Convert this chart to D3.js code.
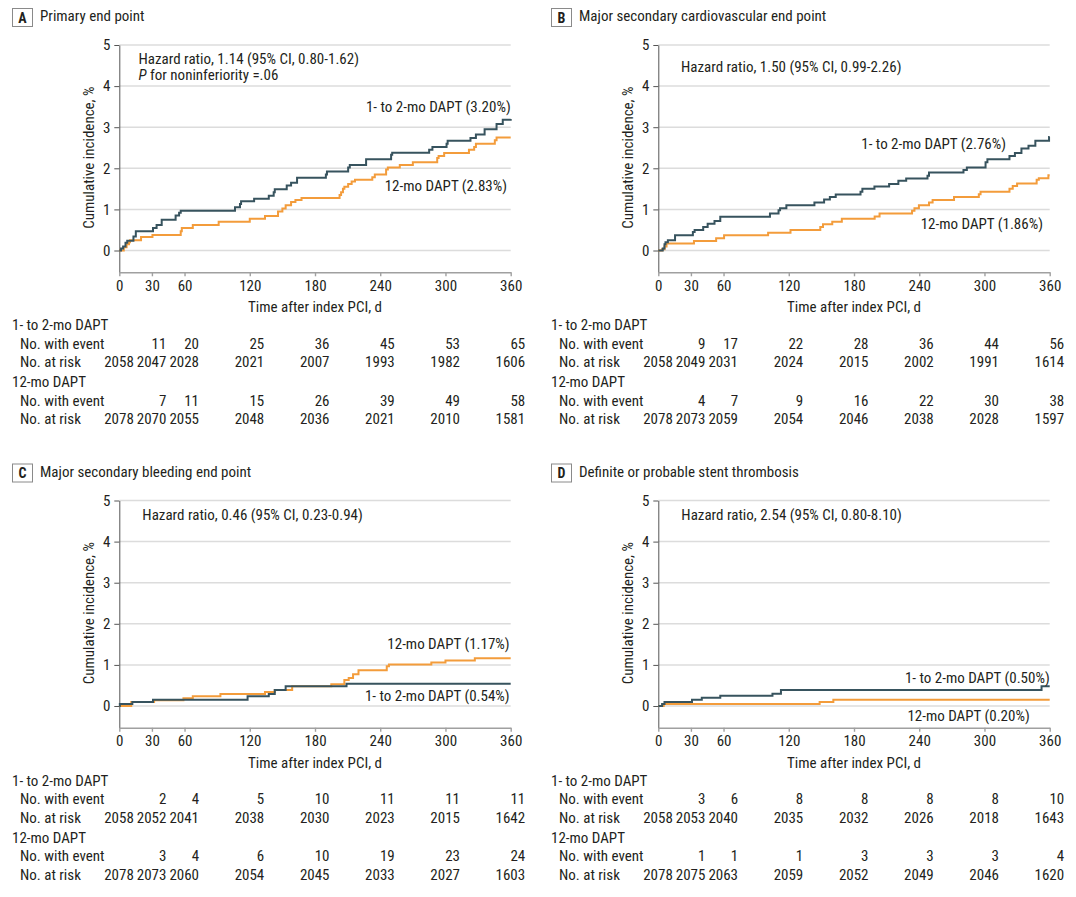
<!DOCTYPE html>
<html>
<head>
<meta charset="utf-8">
<script src="https://cdn.jsdelivr.net/npm/d3@7"></script>
<style>
  html, body { margin: 0; padding: 0; background: #fff; }
  svg text { font-family: 'Liberation Sans Narrow', 'Arial Narrow', 'Roboto Condensed', 'Liberation Sans', sans-serif; fill: #231f20; }
</style>
</head>
<body>
<svg id="chart" width="1076" height="897"></svg>
<script>
// ---------- data ----------
const tickDays = [0, 30, 60, 120, 180, 240, 300, 360];
const yTicks = [0, 1, 2, 3, 4, 5];
const panelLetters = ["A", "B", "C", "D"];
const panelTitles = ["Primary end point", "Major secondary cardiovascular end point",
  "Major secondary bleeding end point", "Definite or probable stent thrombosis"];
const hazardTexts = ["Hazard ratio, 1.14 (95% CI, 0.80-1.62)", "Hazard ratio, 1.50 (95% CI, 0.99-2.26)",
  "Hazard ratio, 0.46 (95% CI, 0.23-0.94)", "Hazard ratio, 2.54 (95% CI, 0.80-8.10)"];
const groupNames = ["1- to 2-mo DAPT", "12-mo DAPT"];
const shortLabels = ["1- to 2-mo DAPT (3.20%)", "1- to 2-mo DAPT (2.76%)", "1- to 2-mo DAPT (0.54%)", "1- to 2-mo DAPT (0.50%)"];
const longLabels = ["12-mo DAPT (2.83%)", "12-mo DAPT (1.86%)", "12-mo DAPT (1.17%)", "12-mo DAPT (0.20%)"];

// step curves [day, cumulative incidence %]
const aShort = [[0,0],[1.6,0.05],[3.5,0.1],[5.7,0.19],[7.3,0.24],[13,0.34],[15.2,0.47],[31,0.55],[34.3,0.62],[39,0.75],[51.8,0.85],[55,0.92],[56.5,0.97],[106.4,1.05],[111,1.13],[112,1.2],[124,1.26],[137.5,1.33],[142,1.42],[143,1.49],[154,1.58],[158,1.65],[163.5,1.77],[190,1.85],[191,1.92],[210.5,2.02],[212,2.08],[227,2.22],[250,2.33],[251,2.38],[285,2.45],[288,2.52],[301,2.6],[302,2.67],[323,2.74],[328,2.82],[336,2.95],[347,3.08],[352.7,3.18],[360,3.2]];
const aLong = [[0,0],[4.1,0.08],[6.7,0.15],[8.9,0.2],[9.8,0.25],[20,0.33],[30.5,0.38],[56.5,0.47],[57.5,0.55],[67.6,0.62],[91.4,0.7],[120,0.77],[134,0.84],[146,0.95],[150,1.02],[153,1.1],[158,1.18],[162,1.23],[167.6,1.28],[202.6,1.35],[204,1.42],[205.7,1.5],[207,1.55],[210.5,1.62],[213.7,1.68],[216.8,1.72],[232.7,1.78],[235,1.85],[245.4,1.97],[247,2.02],[258,2.08],[270,2.15],[292.4,2.25],[293.7,2.3],[298.8,2.37],[321.6,2.45],[326.4,2.52],[328,2.6],[345.4,2.68],[347,2.75],[360,2.75]];
const bShort = [[0,0],[4.1,0.05],[5.7,0.15],[6.6,0.2],[8.8,0.25],[15.4,0.37],[31.8,0.45],[33.4,0.5],[41.3,0.57],[45.4,0.65],[51.7,0.72],[57,0.82],[102.7,0.9],[110.6,0.98],[112,1.03],[117.8,1.1],[143.6,1.17],[152.5,1.24],[157.8,1.3],[163.2,1.36],[186,1.43],[187.7,1.5],[198.8,1.56],[212.3,1.62],[220.8,1.7],[228,1.75],[247.6,1.82],[249,1.9],[280.7,1.96],[283.8,2.02],[301,2.15],[302.7,2.22],[323,2.3],[328,2.37],[334,2.48],[340.5,2.55],[346.8,2.67],[359.4,2.76],[360,2.76]];
const bLong = [[0,0],[3.5,0.03],[5.7,0.1],[7.6,0.17],[32.8,0.23],[53.2,0.3],[60.5,0.37],[101,0.43],[121.6,0.5],[149,0.57],[151.5,0.64],[160,0.7],[168.8,0.77],[199,0.83],[203.5,0.9],[233.4,0.97],[235.6,1.03],[239.7,1.1],[249,1.17],[252.3,1.23],[272,1.3],[294.8,1.37],[296.4,1.43],[323,1.5],[326,1.57],[330,1.63],[348,1.72],[350,1.76],[358.8,1.83],[360,1.83]];
const cShort = [[0,0],[0.5,0.05],[12,0.1],[31,0.15],[118,0.24],[137.5,0.29],[143,0.39],[153,0.48],[209,0.54],[360,0.54]];
const cLong = [[0,0],[11,0.1],[32,0.14],[59,0.19],[67.6,0.24],[93,0.29],[134,0.34],[143,0.39],[159,0.48],[195,0.53],[207,0.63],[211,0.68],[215,0.77],[220,0.87],[246,0.97],[248,1.01],[287,1.06],[300,1.11],[327,1.16],[360,1.16]];
const dShort = [[0,0],[3.5,0.05],[5.7,0.1],[31,0.15],[40,0.2],[57,0.25],[105,0.3],[112.8,0.39],[352.5,0.48],[360,0.48]];
const dLong = [[0,0],[5,0.05],[148.4,0.1],[161,0.15],[360,0.15]];

// number-at-risk tables
const aShortEvents = [null, 11, 20, 25, 36, 45, 53, 65];
const aShortRisk = [2058, 2047, 2028, 2021, 2007, 1993, 1982, 1606];
const aLongEvents = [null, 7, 11, 15, 26, 39, 49, 58];
const aLongRisk = [2078, 2070, 2055, 2048, 2036, 2021, 2010, 1581];
const bShortEvents = [null, 9, 17, 22, 28, 36, 44, 56];
const bShortRisk = [2058, 2049, 2031, 2024, 2015, 2002, 1991, 1614];
const bLongEvents = [null, 4, 7, 9, 16, 22, 30, 38];
const bLongRisk = [2078, 2073, 2059, 2054, 2046, 2038, 2028, 1597];
const cShortEvents = [null, 2, 4, 5, 10, 11, 11, 11];
const cShortRisk = [2058, 2052, 2041, 2038, 2030, 2023, 2015, 1642];
const cLongEvents = [null, 3, 4, 6, 10, 19, 23, 24];
const cLongRisk = [2078, 2073, 2060, 2054, 2045, 2033, 2027, 1603];
const dShortEvents = [null, 3, 6, 8, 8, 8, 8, 10];
const dShortRisk = [2058, 2053, 2040, 2035, 2032, 2026, 2018, 1643];
const dLongEvents = [null, 1, 1, 1, 3, 3, 3, 4];
const dLongRisk = [2078, 2075, 2063, 2059, 2052, 2049, 2046, 1620];

// ---------- layout ----------
const colShort = "#37535e";
const colLong = "#f39c3b";
const origins = [[0, 0], [539, 0], [0, 455.5], [539, 455.5]];
// label anchors in data units: [day, value, anchor]
const shortLabelPos = [[360, 3.37, "end"], [319.8, 2.46, "end"], [359, 0.12, "end"], [360, 0.57, "end"]];
const longLabelPos = [[356.6, 1.45, "end"], [353.8, 0.52, "end"], [359, 1.375, "end"], [341.6, -0.365, "end"]];
const hazardX = [17.7, 20.9, 21.2, 21.2];
const hazardBase = [64, 71.5, 64.5, 64.5];

const panels = [
  {short: aShort, long: aLong, se: aShortEvents, sr: aShortRisk, le: aLongEvents, lr: aLongRisk},
  {short: bShort, long: bLong, se: bShortEvents, sr: bShortRisk, le: bLongEvents, lr: bLongRisk},
  {short: cShort, long: cLong, se: cShortEvents, sr: cShortRisk, le: cLongEvents, lr: cLongRisk},
  {short: dShort, long: dLong, se: dShortEvents, sr: dShortRisk, le: dLongEvents, lr: dLongRisk}
];

const svg = d3.select("#chart");
const x = d3.scaleLinear().domain([0, 360]).range([119.3, 510.7]);
const y = d3.scaleLinear().domain([-0.53, 5]).range([272.3, 45]);
const line = d3.line().x(d => x(d[0])).y(d => y(d[1])).curve(d3.curveStepAfter);
const ff = "'Liberation Sans Narrow','Arial Narrow','Roboto Condensed','Liberation Sans',sans-serif";

panels.forEach((p, i) => {
  const g = svg.append("g").attr("transform", `translate(${origins[i][0]},${origins[i][1]})`);

  // title box
  g.append("rect").attr("x", 12.5).attr("y", 8.5).attr("width", 20).attr("height", 18)
    .attr("fill", "#fff").attr("stroke", "#8a8a8a").attr("stroke-width", 1);
  g.append("text").attr("x", 22.5).attr("y", 22.5).attr("text-anchor", "middle")
    .attr("font-size", 14).attr("font-weight", "bold").text(panelLetters[i]);
  g.append("text").attr("x", 40).attr("y", 21).attr("font-size", 15).text(panelTitles[i]);

  // grid
  g.append("g").selectAll("line").data(yTicks).join("line")
    .attr("x1", x(0)).attr("x2", x(360)).attr("y1", d => y(d)).attr("y2", d => y(d))
    .attr("stroke", "#dcdcdc").attr("stroke-width", 1.5);

  // y axis
  const ya = g.append("g").attr("transform", `translate(${x(0)},0)`)
    .call(d3.axisLeft(y).tickValues(yTicks).tickFormat(d3.format("d")).tickSize(5).tickSizeOuter(0).tickPadding(4));
  ya.select(".domain").attr("stroke", "#555").attr("stroke-width", 1);
  ya.selectAll(".tick line").attr("stroke", "#555");
  ya.selectAll(".tick text").attr("font-size", 15).attr("fill", "#231f20").style("font-family", ff);

  // x axis
  const xa = g.append("g").attr("transform", `translate(0,${y(-0.53)})`)
    .call(d3.axisBottom(x).tickValues(tickDays).tickFormat(d3.format("d")).tickSize(4).tickSizeOuter(0).tickPadding(4));
  xa.select(".domain").attr("stroke", "#a0a0a0").attr("stroke-width", 1.6);
  xa.selectAll(".tick line").attr("stroke", "#a0a0a0").attr("stroke-width", 1.4);
  xa.selectAll(".tick text").attr("font-size", 15).attr("fill", "#231f20").style("font-family", ff);

  // axis titles
  g.append("text").attr("transform", `translate(94,${(y(5) + y(-0.53)) / 2 - 1}) rotate(-90)`)
    .attr("text-anchor", "middle").attr("font-size", 15).text("Cumulative incidence, %");
  g.append("text").attr("x", (x(0) + x(360)) / 2).attr("y", 312)
    .attr("text-anchor", "middle").attr("font-size", 15).text("Time after index PCI, d");

  // curves
  g.append("path").datum(p.long).attr("d", line).attr("fill", "none")
    .attr("stroke", colLong).attr("stroke-width", 2);
  g.append("path").datum(p.short).attr("d", line).attr("fill", "none")
    .attr("stroke", colShort).attr("stroke-width", 2);

  // hazard text
  g.append("text").attr("x", x(hazardX[i])).attr("y", hazardBase[i]).attr("font-size", 15).text(hazardTexts[i]);
  if (i === 0) {
    const t = g.append("text").attr("x", x(hazardX[i])).attr("y", hazardBase[i] + 16).attr("font-size", 15);
    t.append("tspan").attr("font-style", "italic").text("P");
    t.append("tspan").text(" for noninferiority =.06");
  }

  // curve labels
  const sl = shortLabelPos[i], ll = longLabelPos[i];
  g.append("text").attr("x", x(sl[0])).attr("y", y(sl[1])).attr("text-anchor", sl[2])
    .attr("font-size", 15).text(shortLabels[i]);
  g.append("text").attr("x", x(ll[0])).attr("y", y(ll[1])).attr("text-anchor", ll[2])
    .attr("font-size", 15).text(longLabels[i]);

  // table
  const rows = [
    {label: groupNames[0], lx: 12, yy: 330, vals: null},
    {label: "No. with event", lx: 20, yy: 348.5, vals: p.se},
    {label: "No. at risk", lx: 20, yy: 367, vals: p.sr},
    {label: groupNames[1], lx: 12, yy: 387, vals: null},
    {label: "No. with event", lx: 20, yy: 405.5, vals: p.le},
    {label: "No. at risk", lx: 20, yy: 424, vals: p.lr}
  ];
  rows.forEach(r => {
    g.append("text").attr("x", r.lx).attr("y", r.yy).attr("font-size", 15).text(r.label);
    if (r.vals) {
      g.append("g").selectAll("text").data(r.vals.map((v, k) => [tickDays[k], v]).filter(d => d[1] !== null))
        .join("text").attr("x", d => x(d[0]) + 14.5).attr("y", r.yy)
        .attr("text-anchor", "end").attr("font-size", 15).text(d => d[1]);
    }
  });
});
</script>
</body>
</html>
